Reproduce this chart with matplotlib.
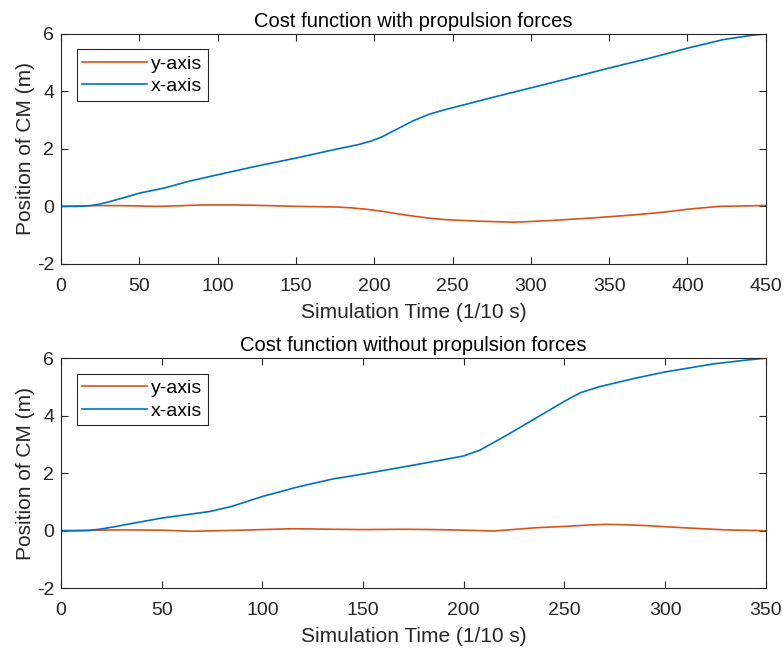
import matplotlib
matplotlib.use("Agg")
import matplotlib.pyplot as plt
import numpy as np

# top panel: with propulsion forces
t_top_x = [0, 10, 18, 24, 30, 40, 50, 66, 80, 100, 125, 150, 175, 190, 198, 205, 215, 225, 235,
           245, 255, 275, 300, 325, 350, 375, 400, 423, 440, 450]
x_top = [0, 0, 0.02, 0.07, 0.15, 0.3, 0.46, 0.64, 0.85, 1.1, 1.4, 1.68, 1.98, 2.15, 2.27, 2.42,
         2.7, 2.98, 3.2, 3.36, 3.5, 3.78, 4.12, 4.46, 4.81, 5.14, 5.5, 5.8, 5.94, 6.0]
t_top_y = [0, 25, 45, 60, 75, 90, 110, 130, 150, 175, 185, 195, 205, 215, 225, 235, 245, 260,
           270, 290, 310, 325, 340, 365, 385, 400, 420, 450]
y_top = [0, 0.03, 0.02, 0.0, 0.02, 0.05, 0.05, 0.03, 0.0, -0.02, -0.05, -0.1, -0.17, -0.26,
         -0.34, -0.41, -0.46, -0.5, -0.52, -0.55, -0.5, -0.45, -0.4, -0.3, -0.2, -0.1, 0.0, 0.03]

# bottom panel: without propulsion forces
t_bot_x = [0, 8, 14, 20, 25, 35, 50, 74, 85, 100, 118, 135, 150, 175, 190, 200, 208, 217, 225,
           233, 242, 250, 258, 267, 285, 300, 324, 340, 350]
x_bot = [0, 0, 0.01, 0.06, 0.12, 0.25, 0.44, 0.67, 0.85, 1.19, 1.53, 1.8, 1.97, 2.28, 2.47, 2.6,
         2.8, 3.15, 3.47, 3.8, 4.17, 4.5, 4.8, 5.0, 5.3, 5.52, 5.8, 5.93, 6.0]
t_bot_y = [0, 30, 50, 65, 90, 115, 135, 150, 170, 185, 200, 215, 235, 250, 260, 270, 280, 290,
           310, 330, 350]
y_bot = [0, 0.03, 0.02, -0.02, 0.02, 0.07, 0.05, 0.04, 0.05, 0.04, 0.02, -0.01, 0.1, 0.15,
         0.19, 0.22, 0.21, 0.18, 0.1, 0.03, 0.0]

titles = ["Cost function with propulsion forces", "Cost function without propulsion forces"]
x_limits = [450, 350]
x_ticks = [np.arange(0, 451, 50), np.arange(0, 351, 50)]
y_ticks = [-2, 0, 2, 4, 6]

plt.rcParams['font.family'] = ['Liberation Sans', 'DejaVu Sans']
plt.rcParams['axes.unicode_minus'] = False
orange = '#D95319'
blue = '#0072BD'
dark = '#262626'

fig = plt.figure(figsize=(7.83, 6.5), dpi=100)
ax1 = fig.add_axes([0.078, 0.594, 0.900, 0.354])
ax2 = fig.add_axes([0.078, 0.095, 0.900, 0.354])

panels = [(ax1, t_top_y, y_top, t_top_x, x_top), (ax2, t_bot_y, y_bot, t_bot_x, x_bot)]
for i, (ax, ty, yv, tx, xv) in enumerate(panels):
    ax.plot(ty, yv, color=orange, lw=1.2, label='y-axis')
    ax.plot(tx, xv, color=blue, lw=1.2, label='x-axis')
    ax.set_xlim(0, x_limits[i])
    ax.set_ylim(-2, 6)
    ax.set_xticks(x_ticks[i])
    ax.set_yticks(y_ticks)
    ax.tick_params(direction='in', top=True, right=True, labelsize=14, colors=dark,
                   length=5, width=0.8)
    ax.tick_params(axis='x', pad=10)
    ax.tick_params(axis='y', pad=5)
    for s in ax.spines.values():
        s.set_color(dark)
        s.set_linewidth(0.8)
    ax.set_title(titles[i], fontsize=14.5, color='black', pad=5)
    ax.set_xlabel('Simulation Time (1/10 s)', fontsize=15, color=dark, labelpad=6)
    ax.set_ylabel('Position of CM (m)', fontsize=15, color=dark, labelpad=1)
    leg = ax.legend(loc='upper left', bbox_to_anchor=(0.0, 1.0), fontsize=14, fancybox=False,
                    framealpha=1, edgecolor=dark, handlelength=3.3, borderpad=0.3,
                    labelspacing=0.25, handletextpad=0.2, borderaxespad=0.8)
    leg.get_frame().set_linewidth(0.8)

fig.savefig('out.png', dpi=100)
